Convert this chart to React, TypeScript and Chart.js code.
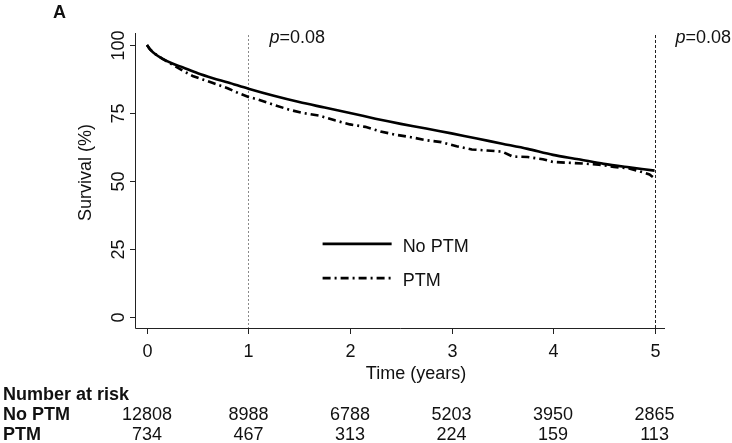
import React, { useEffect, useRef } from "react";
import { Chart, registerables } from "chart.js";

Chart.register(...registerables);

// ---- data ----
const noPtmTime = [0, 0.03, 0.08, 0.15, 0.25, 0.35, 0.5, 0.65, 0.8, 1.0, 1.25, 1.5, 1.75, 2.0, 2.25, 2.5, 2.75, 3.0, 3.25, 3.5, 3.75, 4.0, 4.25, 4.5, 4.75, 5.0];
const noPtmSurv = [100, 98.4, 96.7, 95.0, 93.2, 91.8, 89.6, 87.8, 86.2, 83.9, 81.3, 79.0, 77.0, 75.0, 72.9, 71.0, 69.3, 67.5, 65.6, 63.7, 61.8, 59.6, 58.0, 56.3, 55.0, 53.8];

const ptmTime = [0, 0.03, 0.08, 0.15, 0.25, 0.35, 0.45, 0.55, 0.65, 0.8, 0.9, 1.0, 1.1, 1.25, 1.4, 1.55, 1.7, 1.85, 2.0, 2.15, 2.3, 2.45, 2.6, 2.75, 2.9, 3.05, 3.2, 3.35, 3.5, 3.6, 3.75, 3.9, 4.0, 4.15, 4.3, 4.45, 4.6, 4.75, 4.85, 4.95, 5.0];
const ptmSurv = [100, 98.4, 96.7, 95.0, 92.8, 90.6, 88.6, 87.3, 86.0, 84.0, 82.3, 80.9, 79.9, 78.0, 76.2, 74.9, 74.0, 72.3, 70.8, 69.9, 68.2, 67.0, 66.1, 65.0, 64.3, 62.8, 61.6, 61.2, 60.8, 59.0, 58.8, 58.0, 57.0, 56.7, 56.4, 56.0, 55.2, 54.6, 53.6, 52.4, 51.0];

const seriesNames = ["No PTM", "PTM"];
const xTicks = [0, 1, 2, 3, 4, 5];
const yTicks = [0, 25, 50, 75, 100];
const riskNoPtm = [12808, 8988, 6788, 5203, 3950, 2865];
const riskPtm = [734, 467, 313, 224, 159, 113];
const refTimes = [1, 5];
const pLabels = ["0.08", "0.08"];
const panelLabel = "A";
const xTitle = "Time (years)";
const yTitle = "Survival (%)";
const riskTitle = "Number at risk";

const FONT = '"Liberation Sans", Arial, Helvetica, sans-serif';
const INK = "#111";
const PTM_DASH = [8, 4, 2, 4];

const stataPlugin = {
  id: "stataDecor",
  beforeDatasetsDraw(chart: any) {
    const { ctx, chartArea, scales } = chart;
    const x = scales.x;
    ctx.save();
    refTimes.forEach((t, i) => {
      const px = Math.round(x.getPixelForValue(t)) + 0.5;
      ctx.strokeStyle = i === 0 ? "#8a8a8a" : "#222";
      ctx.lineWidth = 1;
      ctx.setLineDash(i === 0 ? [2, 2] : [3, 2]);
      ctx.beginPath();
      ctx.moveTo(px, chartArea.top + 2);
      ctx.lineTo(px, chartArea.bottom);
      ctx.stroke();
    });
    ctx.restore();
  },
  afterDraw(chart: any) {
    const { ctx, chartArea, scales } = chart;
    const x = scales.x;
    const y = scales.y;
    const L = chartArea.left;
    const B = chartArea.bottom;
    ctx.save();
    ctx.setLineDash([]);
    ctx.strokeStyle = "#222";
    ctx.lineWidth = 1;
    // axis lines
    ctx.beginPath();
    ctx.moveTo(L + 0.5, chartArea.top);
    ctx.lineTo(L + 0.5, B + 0.5);
    ctx.lineTo(chartArea.right, B + 0.5);
    ctx.stroke();
    // y ticks
    ctx.fillStyle = INK;
    ctx.font = `18px ${FONT}`;
    yTicks.forEach((v) => {
      const py = Math.round(y.getPixelForValue(v)) + 0.5;
      ctx.beginPath();
      ctx.moveTo(L - 5, py);
      ctx.lineTo(L + 0.5, py);
      ctx.stroke();
      ctx.save();
      ctx.translate(L - 11, py);
      ctx.rotate(-Math.PI / 2);
      ctx.textAlign = "center";
      ctx.textBaseline = "alphabetic";
      ctx.fillText(String(v), 0, 0);
      ctx.restore();
    });
    // x ticks
    xTicks.forEach((v) => {
      const px = Math.round(x.getPixelForValue(v)) + 0.5;
      ctx.beginPath();
      ctx.moveTo(px, B);
      ctx.lineTo(px, B + 6);
      ctx.stroke();
      ctx.textAlign = "center";
      ctx.textBaseline = "alphabetic";
      ctx.fillText(String(v), px, B + 29);
    });
    // axis titles
    ctx.textAlign = "center";
    ctx.fillText(xTitle, (L + chartArea.right) / 2 + 16, B + 51);
    ctx.save();
    ctx.translate(L - 44, (chartArea.top + B) / 2 - 8);
    ctx.rotate(-Math.PI / 2);
    ctx.fillText(yTitle, 0, 0);
    ctx.restore();
    // p-values
    refTimes.forEach((t, i) => {
      const px = x.getPixelForValue(t) + 21;
      ctx.textAlign = "left";
      ctx.font = `italic 18px ${FONT}`;
      ctx.fillText("p", px, chartArea.top + 10);
      const w = ctx.measureText("p").width;
      ctx.font = `18px ${FONT}`;
      ctx.fillText("=" + pLabels[i], px + w, chartArea.top + 10);
    });
    // legend
    const lx0 = x.getPixelForValue(1.73);
    const lx1 = x.getPixelForValue(2.41);
    const rows = [y.getPixelForValue(26.9), y.getPixelForValue(14.3)];
    rows.forEach((ry, i) => {
      ctx.beginPath();
      ctx.lineWidth = 2.6;
      ctx.strokeStyle = "#000";
      ctx.setLineDash(i === 0 ? [] : PTM_DASH);
      ctx.moveTo(lx0, ry);
      ctx.lineTo(lx1, ry);
      ctx.stroke();
      ctx.setLineDash([]);
      ctx.textAlign = "left";
      ctx.font = `18px ${FONT}`;
      ctx.fillText(seriesNames[i], lx1 + 11, ry + 8);
    });
    // panel label
    ctx.font = `bold 18px ${FONT}`;
    ctx.textAlign = "left";
    ctx.fillText(panelLabel, 53, 18);
    // number at risk
    ctx.font = `bold 18px ${FONT}`;
    ctx.fillText(riskTitle, 3, 400);
    ctx.fillText(seriesNames[0], 3, 420);
    ctx.fillText(seriesNames[1], 3, 440);
    ctx.font = `18px ${FONT}`;
    ctx.textAlign = "center";
    xTicks.forEach((v, i) => {
      const px = x.getPixelForValue(v);
      ctx.fillText(String(riskNoPtm[i]), px, 420);
      ctx.fillText(String(riskPtm[i]), px, 440);
    });
    ctx.restore();
  },
};

export default function App() {
  const ref = useRef<HTMLCanvasElement | null>(null);
  useEffect(() => {
    if (!ref.current) return;
    const chart = new Chart(ref.current, {
      type: "line",
      data: {
        datasets: [
          {
            label: seriesNames[0],
            data: noPtmTime.map((t, i) => ({ x: t, y: noPtmSurv[i] })),
            borderColor: "#000",
            borderWidth: 2.6,
            pointRadius: 0,
            tension: 0.3,
            fill: false,
          },
          {
            label: seriesNames[1],
            data: ptmTime.map((t, i) => ({ x: t, y: ptmSurv[i] })),
            borderColor: "#000",
            borderWidth: 2.6,
            borderDash: PTM_DASH,
            pointRadius: 0,
            tension: 0,
            fill: false,
          },
        ],
      },
      options: {
        responsive: false,
        animation: false,
        devicePixelRatio: 1,
        layout: { padding: { left: 135, right: 67, top: 33, bottom: 115 } },
        plugins: { legend: { display: false }, tooltip: { enabled: false }, title: { display: false } },
        scales: {
          x: { type: "linear", display: false, min: -0.118, max: 5.103 },
          y: { type: "linear", display: false, min: -4.04, max: 104.4 },
        },
      },
      plugins: [stataPlugin],
    });
    return () => chart.destroy();
  }, []);
  return (
    <div style={{ position: "absolute", left: 0, top: 0, width: 732, height: 443, background: "#fff" }}>
      <canvas ref={ref} width={732} height={443} style={{ display: "block" }} />
    </div>
  );
}
